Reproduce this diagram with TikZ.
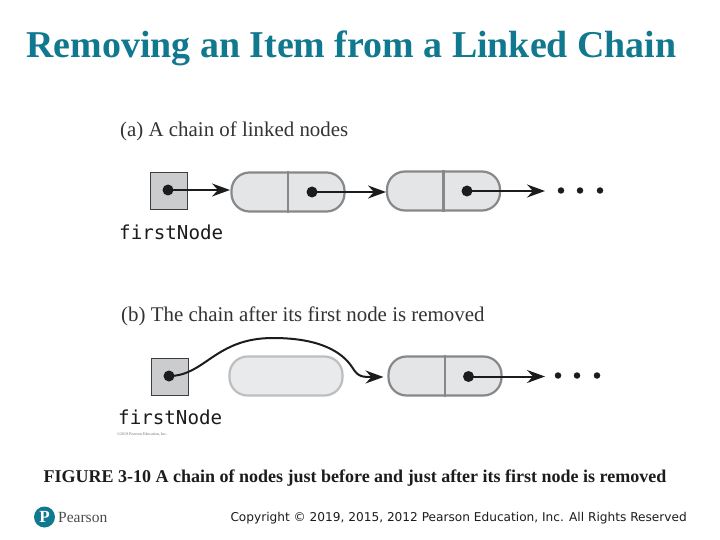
\documentclass[tikz,border=0pt]{standalone}
\usepackage{fontspec}
\setmainfont{Liberation Serif}
\newfontfamily\codefont{DejaVu Sans Mono}
\newfontfamily\copyfont{DejaVu Sans}
\usetikzlibrary{arrows.meta,calc}
\definecolor{teal1}{HTML}{10788F}
\definecolor{boxfill}{HTML}{CBCCCE}
\definecolor{pillfill}{HTML}{E4E5E6}
\definecolor{pillline}{HTML}{868889}
\definecolor{ghostline}{HTML}{BDBEBF}
\definecolor{ink}{HTML}{1C1C1E}
\tikzset{
  x=1pt,y=-1pt,
  ptrbox/.style={draw=ink!85,line width=1.2pt,fill=boxfill,minimum size=37pt,inner sep=0pt},
  pill/.style={draw=pillline,line width=2.2pt,fill=pillfill,rounded corners=18pt,minimum width=113pt,minimum height=39pt,inner sep=0pt},
  ghost/.style={pill,draw=ghostline,fill=pillfill!80!white},
  divider/.style={draw=pillline,line width=2.2pt},
  ptrdot/.style={circle,fill=ink,minimum size=11pt,inner sep=0pt},
  taildot/.style={circle,fill=ink,minimum size=6.5pt,inner sep=0pt},
  link/.style={draw=ink,line width=2pt,-{Stealth[length=18pt,width=13pt,inset=6pt]}},
  heading/.style={inner sep=0pt,anchor=west,font=\fontsize{20.9}{23}\selectfont,text=black!80},
  codelabel/.style={inner sep=0pt,anchor=west,font=\codefont\fontsize{19.2}{22}\selectfont,text=ink},
}
\begin{document}
\begin{tikzpicture}
\useasboundingbox (0,0) rectangle (720,540);
\fill[white] (0,0) rectangle (720,540);
\node[inner sep=0pt,text=teal1,font=\bfseries\fontsize{37.9}{41}\selectfont] (title) at (351.5,48) {Removing an Item from a Linked Chain};

% panel a
\node[heading] (heada) at (120,131) {(a) A chain of linked nodes};
\node[ptrbox] (boxa) at (169,191) {};
\node[ptrdot] (dota) at (168,190) {};
\node[codelabel] (labela) at (119,232.5) {firstNode};
\node[pill] (a1) at (288,192) {};
\node[pill] (a2) at (443.5,191) {};
\draw[divider] (a1.north) -- (a1.south);
\draw[divider] (a2.north) -- (a2.south);
\node[ptrdot] (a1d) at (312,192) {};
\node[ptrdot] (a2d) at (467,191) {};
\coordinate (a1in) at (230,190);
\coordinate (a2in) at (386,192);
\coordinate (a2end) at (545,191);
\node[taildot] (at1) at (561,190.5) {};
\node[taildot] (at2) at (580,190.5) {};
\node[taildot] (at3) at (600,190.5) {};
\draw[link] (dota.center) -- (a1in);
\draw[link] (a1d.center) -- (a2in);
\draw[link] (a2d.center) -- (a2end);

% panel b
\node[heading] (headb) at (121,316) {(b) The chain after its first node is removed};
\node[ptrbox] (boxb) at (170,377) {};
\node[ptrdot] (dotb) at (169,376) {};
\node[codelabel] (labelb) at (118,417.5) {firstNode};
\node[inner sep=0pt,anchor=west,font=\fontsize{4}{5}\selectfont,text=black!55] (credit) at (117,434) {©2019 Pearson Education, Inc.};
\node[ghost] (b0) at (286,376) {};
\node[pill] (b1) at (445,376) {};
\draw[divider] (b1.north) -- (b1.south);
\node[ptrdot] (b1d) at (468.5,376.5) {};
\coordinate (b1in) at (383.5,377);
\coordinate (b1end) at (545,376.5);
\node[taildot] (bt1) at (558,375.5) {};
\node[taildot] (bt2) at (577,375.5) {};
\node[taildot] (bt3) at (597,375.5) {};
\draw[link] (dotb.center) .. controls (205,376) and (215,338) .. (273,338)
  .. controls (320,338) and (342,352) .. (352,367)
  .. controls (358,377) and (362,377) .. (b1in);
\draw[link] (b1d.center) -- (b1end);

% caption and footer
\node[inner sep=0pt,font=\bfseries\fontsize{18}{20}\selectfont,text=ink] (caption) at (355,478.5) {FIGURE 3-10 A chain of nodes just before and just after its first node is removed};
\node[circle,fill=teal1,minimum size=21pt,inner sep=0pt,text=white,font=\bfseries\fontsize{17}{17}\selectfont] (logo) at (44.5,517) {P};
\node[inner sep=0pt,anchor=west,font=\fontsize{15.5}{16}\selectfont,text=black!70] (brand) at (58,517) {Pearson};
\node[inner sep=0pt,anchor=east,font=\copyfont\fontsize{12.15}{14}\selectfont,text=ink] (copy) at (687,518) {Copyright © 2019, 2015, 2012 Pearson Education, Inc. All Rights Reserved};
\end{tikzpicture}
\end{document}
